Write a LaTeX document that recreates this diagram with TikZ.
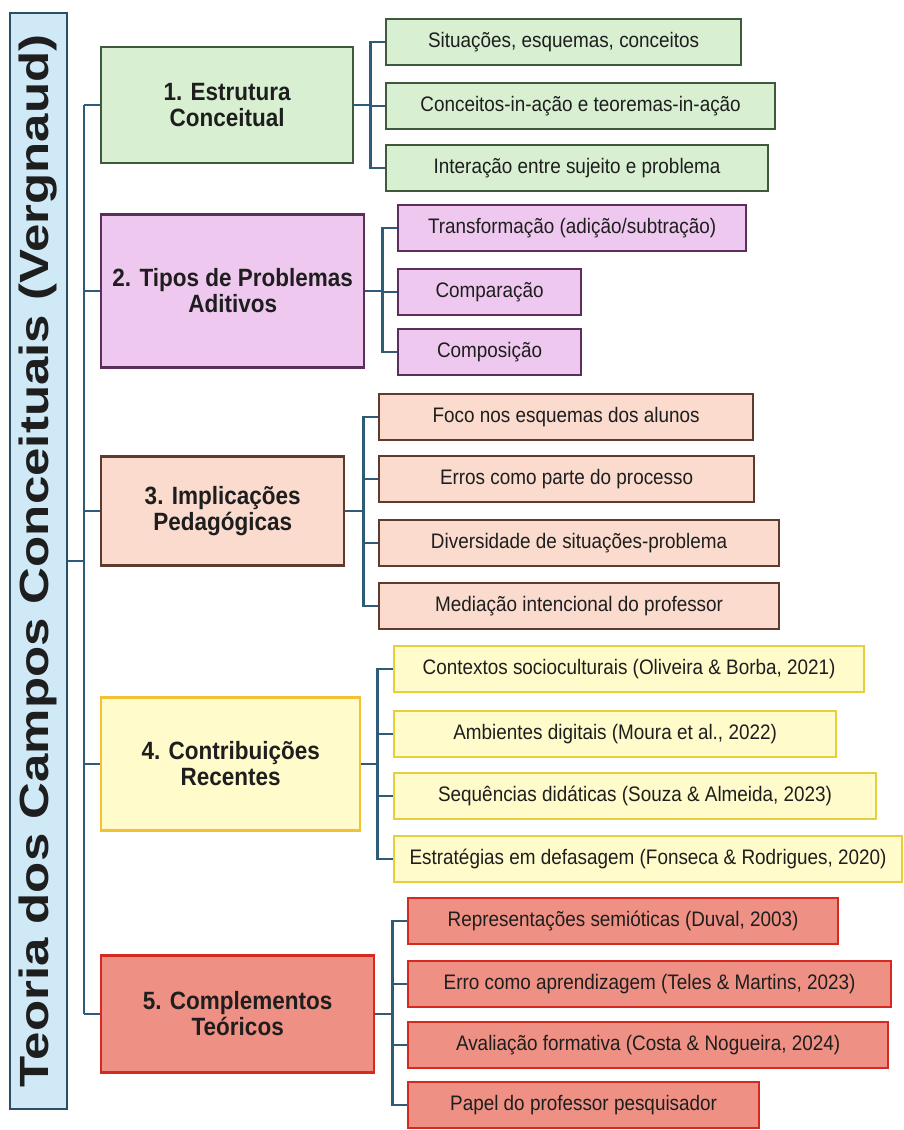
\documentclass[tikz,border=0pt]{standalone}
\usepackage{fontspec}
\setmainfont{Liberation Sans}[FakeStretch=0.9]
\newfontfamily\rootfont{Liberation Sans}
\usepackage{xcolor}
\usepackage{tikz}
\usetikzlibrary{positioning}
\definecolor{ink}{RGB}{30,30,30}
\definecolor{linkblue}{RGB}{46,92,120}
\definecolor{rootfill}{RGB}{207,233,247}
\definecolor{rootdraw}{RGB}{44,77,99}
\definecolor{grnfill}{RGB}{216,239,210}
\definecolor{grndraw}{RGB}{61,91,58}
\definecolor{purfill}{RGB}{238,200,238}
\definecolor{purdraw}{RGB}{92,46,92}
\definecolor{pchfill}{RGB}{250,219,205}
\definecolor{pchdraw}{RGB}{94,59,46}
\definecolor{ylwfill}{RGB}{255,251,203}
\definecolor{ylwdraw}{RGB}{230,207,60}
\definecolor{ylwmain}{RGB}{242,194,50}
\definecolor{redfill}{RGB}{239,144,132}
\definecolor{reddraw}{RGB}{212,42,34}
\tikzset{
    rootbox/.style={rectangle,draw=rootdraw,fill=rootfill,line width=2.4pt,inner sep=0pt,minimum width=57pt,minimum height=1096pt,text=ink,font=\rootfont\bfseries\fontsize{51}{51}\selectfont},
    topic/.style={rectangle,line width=2.4pt,align=center,inner sep=2pt,anchor=west,text=ink,font=\fontsize{25}{26}\selectfont\bfseries},
    leaf/.style={rectangle,line width=2.2pt,minimum height=46pt,inner sep=2pt,anchor=west,text=ink,font=\fontsize{21}{24}\selectfont},
    grn/.style={draw=grndraw,fill=grnfill},
    pur/.style={draw=purdraw,fill=purfill},
    pch/.style={draw=pchdraw,fill=pchfill},
    ylw/.style={draw=ylwdraw,fill=ylwfill},
    red/.style={draw=reddraw,fill=redfill},
    link/.style={draw=linkblue,line width=2.4pt},
}

\begin{document}
\begin{tikzpicture}[x=1pt,y=-1pt]
\useasboundingbox (0,0) rectangle (903,1130);
\node[rootbox] (root) at (38.5,561) {\rotatebox{90}{\scalebox{1}[0.8]{Teoria dos Campos Conceituais (Vergnaud)}}};

% main topics
\node[topic,grn,minimum width=252pt,minimum height=116pt] (estr)  at (100,105)  {1. Estrutura\\Conceitual};
\node[topic,pur,minimum width=263pt,minimum height=153pt] (tipos) at (100,291)  {2. Tipos de Problemas\\Aditivos};
\node[topic,pch,minimum width=243pt,minimum height=109pt] (impl)  at (100,511)  {3. Implicações\\Pedagógicas};
\node[topic,ylw,draw=ylwmain,minimum width=259pt,minimum height=133pt] (contr) at (100,764) {4. Contribuições\\Recentes};
\node[topic,red,minimum width=273pt,minimum height=117pt] (compl) at (100,1014) {5. Complementos\\Teóricos};

% 1
\node[leaf,grn,minimum width=355pt] (estr1) at (385,42)  {Situações, esquemas, conceitos};
\node[leaf,grn,minimum width=389pt] (estr2) at (385,106) {Conceitos-in-ação e teoremas-in-ação};
\node[leaf,grn,minimum width=382pt] (estr3) at (385,168) {Interação entre sujeito e problema};
% 2
\node[leaf,pur,minimum width=348pt] (tipos1) at (397,228) {Transformação (adição/subtração)};
\node[leaf,pur,minimum width=183pt] (tipos2) at (397,292) {Comparação};
\node[leaf,pur,minimum width=183pt] (tipos3) at (397,352) {Composição};
% 3
\node[leaf,pch,minimum width=374pt] (impl1) at (378,417) {Foco nos esquemas dos alunos};
\node[leaf,pch,minimum width=375pt] (impl2) at (378,479) {Erros como parte do processo};
\node[leaf,pch,minimum width=400pt] (impl3) at (378,543) {Diversidade de situações-problema};
\node[leaf,pch,minimum width=400pt] (impl4) at (378,606) {Mediação intencional do professor};
% 4
\node[leaf,ylw,minimum width=470pt] (contr1) at (393,669) {Contextos socioculturais (Oliveira \& Borba, 2021)};
\node[leaf,ylw,minimum width=442pt] (contr2) at (393,734) {Ambientes digitais (Moura et al., 2022)};
\node[leaf,ylw,minimum width=482pt] (contr3) at (393,796) {Sequências didáticas (Souza \& Almeida, 2023)};
\node[leaf,ylw,minimum width=508pt] (contr4) at (393,859) {Estratégias em defasagem (Fonseca \& Rodrigues, 2020)};
% 5
\node[leaf,red,minimum width=430pt] (compl1) at (407,921)  {Representações semióticas (Duval, 2003)};
\node[leaf,red,minimum width=483pt] (compl2) at (407,984)  {Erro como aprendizagem (Teles \& Martins, 2023)};
\node[leaf,red,minimum width=480pt] (compl3) at (407,1045) {Avaliação formativa (Costa \& Nogueira, 2024)};
\node[leaf,red,minimum width=351pt] (compl4) at (407,1105) {Papel do professor pesquisador};

% trunk
\draw[link] (root.east) -- ++(16,0) coordinate (trunk);
\draw[link] (trunk |- estr.west) -- (trunk |- compl.west);
\foreach \m in {estr,tipos,impl,contr,compl}
    \draw[link] (trunk |- \m.west) -- (\m.west);

% branches
\foreach \c in {estr1,estr2,estr3}
    \draw[link] (estr.east) -- ++(16,0) |- (\c.west);
\foreach \c in {tipos1,tipos2,tipos3}
    \draw[link] (tipos.east) -- ++(17,0) |- (\c.west);
\foreach \c in {impl1,impl2,impl3,impl4}
    \draw[link] (impl.east) -- ++(18,0) |- (\c.west);
\foreach \c in {contr1,contr2,contr3,contr4}
    \draw[link] (contr.east) -- ++(16,0) |- (\c.west);
\foreach \c in {compl1,compl2,compl3,compl4}
    \draw[link] (compl.east) -- ++(17,0) |- (\c.west);
\end{tikzpicture}
\end{document}
